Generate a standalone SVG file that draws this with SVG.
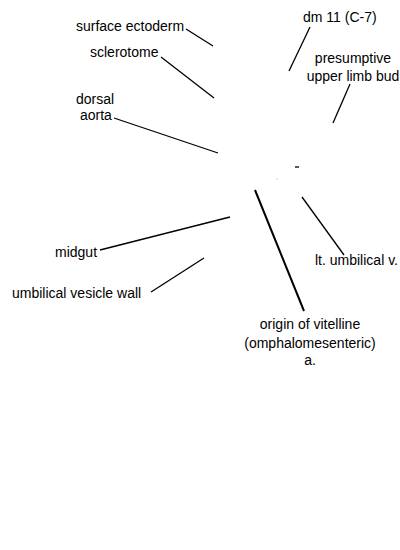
<svg xmlns="http://www.w3.org/2000/svg" width="400" height="550" viewBox="0 0 400 550">
<style>
text{font-family:"Liberation Sans",Arial,sans-serif;font-size:14px;fill:#000}
.l{stroke:#000;stroke-width:1.3;fill:none}
.m{text-anchor:middle}
</style>
<rect width="400" height="550" fill="#fff"/>
<g id="connectors">
<line class="l" x1="186" y1="29" x2="213" y2="46"/>
<line class="l" x1="161" y1="57" x2="214" y2="98"/>
<line class="l" x1="114" y1="118" x2="218" y2="153"/>
<line class="l" x1="310" y1="27" x2="289" y2="71"/>
<line class="l" x1="350" y1="84" x2="333" y2="123"/>
<line class="l" x1="100" y1="250" x2="230" y2="217"/>
<line class="l" x1="151" y1="292" x2="204" y2="258"/>
<line class="l" x1="255" y1="190" x2="304" y2="311" style="stroke-width:2"/>
<line class="l" x1="302" y1="197" x2="344" y2="255"/>
<line class="l" x1="295" y1="167" x2="299" y2="167"/>
<circle cx="277" cy="179" r="0.5" fill="#888"/>
</g>
<g id="surface-ectoderm"><text x="76" y="31">surface ectoderm</text></g>
<g id="sclerotome"><text x="90" y="57">sclerotome</text></g>
<g id="dorsal-aorta"><text x="76" y="104">dorsal</text><text x="80" y="120">aorta</text></g>
<g id="dm11"><text x="303" y="22">dm 11 (C-7)</text></g>
<g id="upper-limb-bud"><text class="m" x="353" y="63">presumptive</text><text class="m" x="353" y="81">upper limb bud</text></g>
<g id="midgut"><text x="55" y="257">midgut</text></g>
<g id="umbilical-vesicle-wall"><text x="12" y="298">umbilical vesicle wall</text></g>
<g id="lt-umbilical-v"><text x="315" y="265">lt. umbilical v.</text></g>
<g id="vitelline"><text class="m" x="310" y="329">origin of vitelline</text><text class="m" x="310" y="348">(omphalomesenteric)</text><text class="m" x="310" y="365">a.</text></g>
</svg>
